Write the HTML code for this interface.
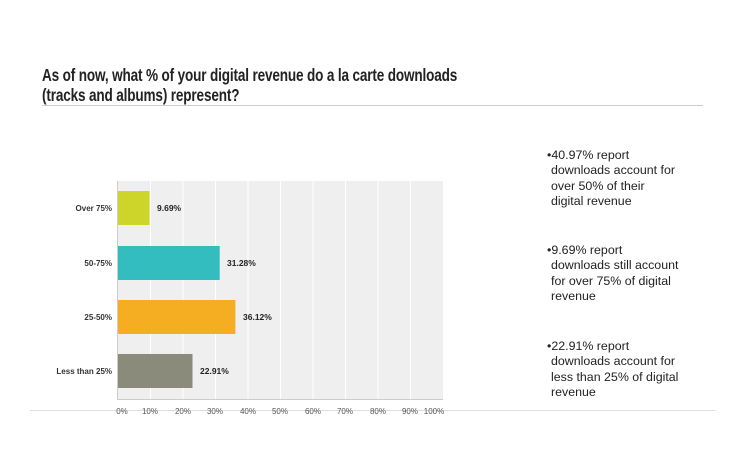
<!DOCTYPE html>
<html><head><style>
body{margin:0;width:745px;height:475px;background:#fff;position:relative;overflow:hidden;font-family:"Liberation Sans",sans-serif}
.t{position:absolute;left:42px;top:65px;font-size:17.5px;font-weight:bold;color:#222;line-height:20px;letter-spacing:-0.2px;transform:scaleX(0.775);transform-origin:0 0;white-space:nowrap}
.r{position:absolute;left:547px;font-size:12.4px;line-height:15.3px;color:#222}
.r div{padding-left:4px}
.r div:first-child{padding-left:0}
</style></head><body>
<div class="t">As of now, what % of your digital revenue do a la carte downloads<br>(tracks and albums) represent?</div>
<div style="position:absolute;left:42px;top:105px;width:661px;height:1px;background:#ccc"></div>
<div style="position:absolute;left:30px;top:410px;width:685px;height:1px;background:#ddd"></div>
<svg width="745" height="475" style="position:absolute;left:0;top:0" font-family="Liberation Sans, sans-serif">
<rect x="118" y="181" width="325" height="218" fill="#efefef"/>
<g stroke="#fff" stroke-width="1">
<line x1="150.5" y1="181" x2="150.5" y2="399"/><line x1="183" y1="181" x2="183" y2="399"/><line x1="215.5" y1="181" x2="215.5" y2="399"/><line x1="248" y1="181" x2="248" y2="399"/><line x1="280.5" y1="181" x2="280.5" y2="399"/><line x1="313" y1="181" x2="313" y2="399"/><line x1="345.5" y1="181" x2="345.5" y2="399"/><line x1="378" y1="181" x2="378" y2="399"/><line x1="410.5" y1="181" x2="410.5" y2="399"/>
</g>
<line x1="118" y1="399.5" x2="443" y2="399.5" stroke="#ccc"/>
<line x1="117.5" y1="181" x2="117.5" y2="400" stroke="#ccc"/>
<rect x="118" y="191" width="31.5" height="34" fill="#cdd52a"/>
<rect x="118" y="246" width="101.7" height="34" fill="#33bdbf"/>
<rect x="118" y="300" width="117.4" height="34" fill="#f5ae21"/>
<rect x="118" y="354" width="74.5" height="34" fill="#8a8b7a"/>
<g font-size="8" font-weight="bold" fill="#333" text-anchor="end">
<text x="112" y="211">Over 75%</text><text x="112" y="266">50-75%</text><text x="112" y="320">25-50%</text><text x="112" y="374">Less than 25%</text>
</g>
<g font-size="8.5" font-weight="bold" fill="#222">
<text x="157" y="211">9.69%</text><text x="227" y="266">31.28%</text><text x="243" y="320">36.12%</text><text x="200" y="374">22.91%</text>
</g>
<g font-size="8" fill="#555" text-anchor="middle">
<text x="122" y="414">0%</text><text x="150" y="414">10%</text><text x="183" y="414">20%</text><text x="215" y="414">30%</text><text x="248" y="414">40%</text><text x="280" y="414">50%</text><text x="313" y="414">60%</text><text x="345" y="414">70%</text><text x="378" y="414">80%</text><text x="410" y="414">90%</text><text x="434" y="414">100%</text>
</g>
</svg>
<div class="r" style="top:148px"><div>•40.97% report</div><div>downloads account for</div><div>over 50% of their</div><div>digital revenue</div></div>
<div class="r" style="top:243px"><div>•9.69% report</div><div>downloads still account</div><div>for over 75% of digital</div><div>revenue</div></div>
<div class="r" style="top:339px"><div>•22.91% report</div><div>downloads account for</div><div>less than 25% of digital</div><div>revenue</div></div>
</body></html>
